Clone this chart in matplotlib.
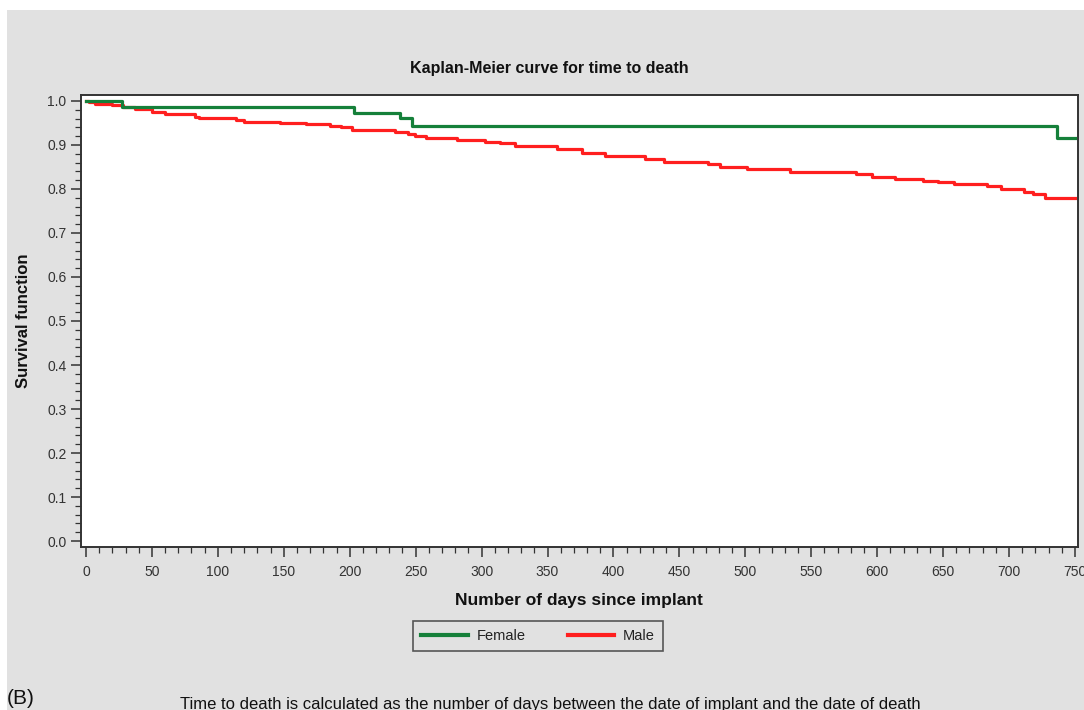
import matplotlib
matplotlib.use("Agg")
import matplotlib.pyplot as plt
from matplotlib.patches import Rectangle
from matplotlib.ticker import MultipleLocator

# ---- data ----
female_days = [0, 27, 203, 238, 247, 736, 750]
female_surv = [1.0, 0.987, 0.972, 0.961, 0.944, 0.915, 0.915]

male_days = [0, 2, 7, 19.5, 28, 37, 50, 60, 83, 86, 114, 120, 147, 167, 185,
             193, 201.5, 234, 244, 249.5, 258, 281, 302.6, 314, 325, 357,
             376, 393.6, 424, 438, 472, 481, 501, 534, 584, 596, 613.5, 635,
             646, 658, 683, 694, 711, 718, 727, 750]
male_surv = [1.0, 0.997, 0.993, 0.990, 0.986, 0.981, 0.976, 0.970, 0.964,
             0.961, 0.957, 0.953, 0.950, 0.947, 0.944, 0.940, 0.934, 0.929,
             0.925, 0.920, 0.915, 0.911, 0.9075, 0.904, 0.898, 0.890, 0.881,
             0.875, 0.868, 0.862, 0.857, 0.851, 0.845, 0.839, 0.834, 0.828,
             0.823, 0.819, 0.815, 0.811, 0.807, 0.799, 0.794, 0.788, 0.779,
             0.779]

series_names = ["Female", "Male"]
x_ticks = list(range(0, 751, 50))
y_ticks = [0.0, 0.1, 0.2, 0.3, 0.4, 0.5, 0.6, 0.7, 0.8, 0.9, 1.0]

title = "Kaplan-Meier curve for time to death"
xlabel = "Number of days since implant"
ylabel = "Survival function"
footnote = "Time to death is calculated as the number of days between the date of implant and the date of death"
panel = "(B)"

GREEN = "#15803a"
RED = "#ff1f1f"
BG = "#e1e1e1"
NARROW = ["Liberation Sans Narrow", "Liberation Sans", "DejaVu Sans"]
SANS = ["Liberation Sans", "DejaVu Sans"]

fig = plt.figure(figsize=(10.84, 7.10), dpi=100, facecolor="white")
fig.patches.append(Rectangle((7 / 1084, 0), 1 - 7 / 1084, 1 - 10 / 710,
                             transform=fig.transFigure, facecolor=BG,
                             edgecolor="none", zorder=-10))

ax = fig.add_axes([81 / 1084, 1 - 547 / 710, (1078 - 81) / 1084, (547 - 95) / 710])
ax.set_facecolor("white")

ax.step(female_days, female_surv, where="post", color=GREEN, lw=2.3,
        label=series_names[0], zorder=3)
ax.step(male_days, male_surv, where="post", color=RED, lw=2.3,
        label=series_names[1], zorder=2)

ax.set_xlim(-3.8, 752.3)
ax.set_ylim(-0.0136, 1.0136)
ax.set_xticks(x_ticks)
ax.set_yticks(y_ticks)
ax.set_yticklabels([f"{v:.1f}" for v in y_ticks])
ax.xaxis.set_minor_locator(MultipleLocator(10))
ax.yaxis.set_minor_locator(MultipleLocator(0.02))
ax.tick_params(axis="both", which="major", direction="out", length=7,
               width=1.1, color="#333333", labelsize=10, labelcolor="#333333")
ax.tick_params(axis="both", which="minor", direction="out", length=4,
               width=0.9, color="#333333")
ax.tick_params(axis="x", pad=6)
for lab in ax.get_xticklabels() + ax.get_yticklabels():
    lab.set_family(SANS)
for sp in ax.spines.values():
    sp.set_color("#333333")
    sp.set_linewidth(1.4)

fig.text(549 / 1084, 1 - 69 / 710, title, ha="center",
         va="center", fontsize=11.5, fontweight="bold", family=NARROW,
         color="#111111")
fig.text(579 / 1084, 1 - 601 / 710, xlabel, ha="center", va="center",
         fontsize=12.5, fontweight="bold", family=NARROW, color="#111111")
fig.text(24 / 1084, 1 - 321 / 710, ylabel, ha="center", va="center",
         rotation=90, fontsize=12, fontweight="bold", family=NARROW,
         color="#111111")

leg = fig.legend(loc="center", bbox_to_anchor=(538 / 1084, 1 - 636 / 710),
                 ncol=2, frameon=True, fancybox=False,
                 handlelength=3.2, columnspacing=2.9, handletextpad=0.6,
                 borderpad=0.55, borderaxespad=0,
                 prop={"family": SANS, "size": 10.5})
leg.get_frame().set_facecolor(BG)
leg.get_frame().set_edgecolor("#333333")
leg.get_frame().set_linewidth(1.2)
for t in leg.get_texts():
    t.set_color("#222222")
for h in leg.get_lines():
    h.set_linewidth(3)

fig.text(7 / 1084, 1 - 698 / 710, panel, ha="left", va="center",
         fontsize=15, family=SANS, color="#111111")
fig.text(550 / 1084, 1 - 704 / 710, footnote, ha="center", va="center",
         fontsize=12, family=NARROW, color="#111111")

fig.savefig("out.png", dpi=100, facecolor=fig.get_facecolor())
